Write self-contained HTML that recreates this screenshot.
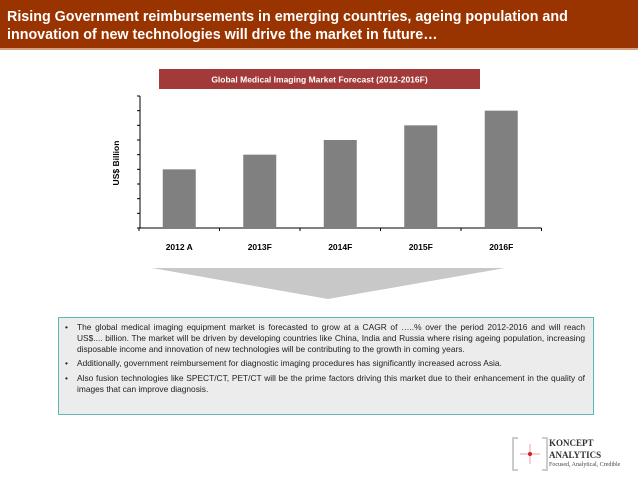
<!DOCTYPE html>
<html><head><meta charset="utf-8"><style>
body{margin:0;width:638px;height:479px;background:#fff;position:relative;overflow:hidden;font-family:"Liberation Sans",sans-serif}
.hdr{position:absolute;left:0;top:0;width:638px;height:50px;background:#993300;border-bottom:2px solid #d9a080;color:#fff;font-weight:bold;font-size:14.3px;line-height:18px;padding:8px 0 0 7px;box-sizing:border-box}
.box{position:absolute;left:58px;top:317px;width:536px;height:98px;box-sizing:border-box;background:#ececec;border:1.5px solid #5fb8b8;padding:4px 8px 0 6px;font-size:8.4px;line-height:10.9px;color:#222}
.box ul{margin:0;padding:0 0 0 12px;list-style:none}
.box li{position:relative;text-align:justify;margin-bottom:3.5px}
.box li:before{content:"•";position:absolute;left:-12px}
</style></head><body>
<div class="hdr">Rising Government reimbursements in emerging countries, ageing population and innovation of new technologies will drive the market in future…</div>
<svg width="638" height="479" style="position:absolute;left:0;top:0">
<rect x="159" y="69" width="321" height="20" fill="#a33a3a"/>
<text x="319.5" y="82.5" text-anchor="middle" fill="#fff" font-size="8.5" font-weight="bold" font-family="Liberation Sans">Global Medical Imaging Market Forecast (2012-2016F)</text>
<text transform="translate(119,163) rotate(-90)" text-anchor="middle" font-size="8.5" font-weight="bold" font-family="Liberation Sans">US$ Billion</text>
<g id="plot"></g>
<polygon points="152,268 505,268 328,299" fill="#c8c8c8"/>
</svg>
<div class="box"><ul>
<li>The global medical imaging equipment market is forecasted to grow at a CAGR of …..% over the period 2012-2016 and will reach US$....&nbsp;billion. The market will be driven by developing countries like China, India and Russia where rising ageing population, increasing disposable income and innovation of new technologies will be contributing to the growth in coming years.</li>
<li>Additionally, government reimbursement for diagnostic imaging procedures has significantly increased across Asia.</li>
<li>Also fusion technologies like SPECT/CT, PET/CT will be the prime factors driving this market due to their enhancement in the quality of images that can improve diagnosis.</li>
</ul></div>
<svg width="40" height="40" style="position:absolute;left:510px;top:434px">
<path d="M8 4H3V36H8M32 4H37V36H32" stroke="#bbb" fill="none" stroke-width="1.5"/>
<line x1="10" y1="20" x2="30" y2="20" stroke="#e8a0a0"/><line x1="20" y1="10" x2="20" y2="30" stroke="#e8a0a0"/>
<circle cx="20" cy="20" r="2" fill="#d02020"/></svg>
<div style="position:absolute;left:549px;top:437px;font-family:'Liberation Serif',serif;font-weight:bold;font-size:9px;line-height:12px;color:#333">KONCEPT<br>ANALYTICS</div>
<div style="position:absolute;left:549px;top:462px;font-family:'Liberation Serif',serif;font-size:6px;color:#444">Focused, Analytical, Credible</div>
<script>
const categories=["2012A","2013F","2014F","2015F","2016F"];
const values=[4,5,6,7,8];
const yMax=9;
const x0=139,x1=541.5,y0=228,y1=96;
const band=(x1-x0)/categories.length;
const xs=i=>x0+band*(i+0.5);
const ys=v=>y0-(v/yMax)*(y0-y1);
const g=document.getElementById('plot');
const NS="http://www.w3.org/2000/svg";
function mk(t,a){const e=document.createElementNS(NS,t);for(const k in a)e.setAttribute(k,a[k]);g.appendChild(e);return e;}
let ax=mk('line',{x1:x0+1,y1:y1,x2:x0+1,y2:y0,stroke:'#000','stroke-width':1});


for(let t=0;t<=yMax;t++){const tk=mk('line',{x1:x0-2,x2:x0+1,y1:ys(t),y2:ys(t),stroke:'#000'});

}
let xa=mk('line',{x1:x0,y1:y0,x2:x1,y2:y0,stroke:'#000'});


for(let i=0;i<=categories.length;i++){const tk=mk('line',{x1:x0+band*i,x2:x0+band*i,y1:y0,y2:y0+3,stroke:'#000'});

}
categories.forEach((c,i)=>{
const b=mk('rect',{x:xs(i)-16.5,y:ys(values[i]),width:33,height:y0-ys(values[i]),fill:'#808080'});


const t=mk('text',{x:xs(i),y:y0+22,'text-anchor':'middle','font-size':8.5,'font-weight':'bold','font-family':'Liberation Sans'});
t.textContent=c.replace("2012A","2012 A");


});
</script>
</body></html>
